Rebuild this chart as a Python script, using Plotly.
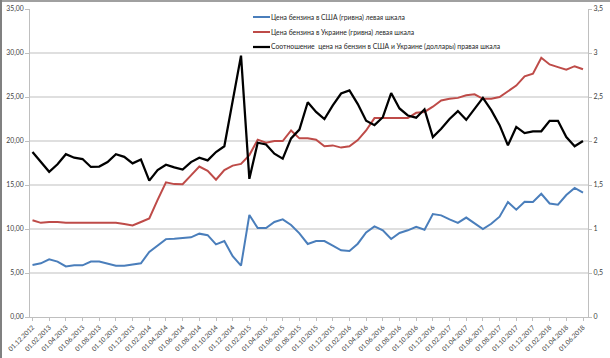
import plotly.graph_objects as go

# Category labels: monthly from 01.12.2012 to 01.06.2018
months = []
y, m = 2012, 12
while (y, m) <= (2018, 6):
    months.append(f"01.{m:02d}.{y}")
    m += 1
    if m > 12:
        m = 1
        y += 1

usa_price = [5.9, 6.1, 6.55, 6.3, 5.75, 5.87, 5.87, 6.3, 6.3, 6.05, 5.83, 5.83, 5.95, 6.1,
             7.4, 8.1, 8.85, 8.9, 8.97, 9.05, 9.47, 9.3, 8.25, 8.63, 6.9, 5.83, 11.6, 10.1,
             10.1, 10.8, 11.1, 10.45, 9.5, 8.3, 8.63, 8.63, 8.1, 7.58, 7.5, 8.33, 9.6, 10.3,
             9.85, 8.86, 9.55, 9.85, 10.26, 9.92, 11.7, 11.55, 11.1, 10.7, 11.3, 10.7, 10.0,
             10.6, 11.4, 13.07, 12.2, 13.1, 13.07, 14.0, 12.9, 12.77, 13.86, 14.66, 14.13]

ukr_price = [11.0, 10.7, 10.8, 10.8, 10.7, 10.7, 10.65, 10.7, 10.7, 10.7, 10.7, 10.57, 10.4,
             10.8, 11.2, 13.3, 15.3, 15.1, 15.08, 16.1, 17.1, 16.6, 15.6, 16.7, 17.2, 17.4,
             18.4, 20.15, 19.8, 20.0, 20.0, 21.2, 20.3, 20.3, 20.15, 19.4, 19.5, 19.25, 19.4,
             20.1, 21.2, 22.6, 22.6, 22.6, 22.6, 22.6, 23.2, 23.3, 23.9, 24.6, 24.8, 24.9,
             25.2, 25.3, 24.8, 24.8, 25.0, 25.7, 26.3, 27.35, 27.65, 29.45, 28.7, 28.4, 28.1,
             28.5, 28.15]

ratio = [1.875, 1.76, 1.65, 1.735, 1.85, 1.81, 1.795, 1.705, 1.71, 1.76, 1.85, 1.82, 1.746,
         1.79, 1.55, 1.67, 1.73, 1.70, 1.675, 1.76, 1.81, 1.78, 1.875, 1.94, 2.46, 2.97,
         1.57, 1.98, 1.96, 1.856, 1.80, 2.03, 2.13, 2.44, 2.33, 2.25, 2.405, 2.54, 2.575,
         2.42, 2.23, 2.18, 2.27, 2.545, 2.37, 2.29, 2.265, 2.36, 2.045, 2.14, 2.25, 2.34,
         2.24, 2.37, 2.49, 2.35, 2.18, 1.95, 2.16, 2.09, 2.11, 2.11, 2.23, 2.23, 2.045,
         1.94, 2.0]

names = ["Цена бензина в США (гривна) левая шкала",
         "Цена бензина в Украине (гривна) левая шкала",
         "Соотношение  цена на бензин в США и Украине (доллары) правая шкала"]
colors = ["#4a7ebb", "#be4b48", "#000000"]
widths = [2, 2, 2.25]

left_ticks = [0, 5, 10, 15, 20, 25, 30, 35]
right_ticks = [0, 0.5, 1, 1.5, 2, 2.5, 3, 3.5]
right_ticklabels = ["0", "0,5", "1", "1,5", "2", "2,5", "3", "3,5"]

FONT = "Lato"
TXT = "#404040"
GRID = "#bfbfbf"

# plot area in pixels
L, R, T, B = 30, 22, 9, 41
PW, PH = 610 - L - R, 358 - T - B

def px(xp):
    return (xp - L) / PW

def py(yp):
    return 1 - (yp - T) / PH

fig = go.Figure()
series = [(usa_price, "y"), (ukr_price, "y"), (ratio, "y2")]
for (vals, ax), nm, c, w in zip(series, names, colors, widths):
    fig.add_trace(go.Scatter(x=months, y=vals, mode="lines", name=nm, yaxis=ax,
                             line=dict(color=c, width=w), showlegend=False,
                             hoverinfo="skip"))

shapes = []
# horizontal gridlines (not at the top edge)
for v in left_ticks[1:-1]:
    shapes.append(dict(type="line", xref="paper", yref="y", x0=0, x1=1, y0=v, y1=v,
                       line=dict(color=GRID, width=1), layer="below"))
# chart-area border (left + top)
shapes.append(dict(type="line", xref="paper", yref="paper", x0=px(0), x1=px(612),
                   y0=py(1), y1=py(1), line=dict(color="#a0a0a0", width=2)))
shapes.append(dict(type="line", xref="paper", yref="paper", x0=px(1), x1=px(1),
                   y0=py(0), y1=py(360), line=dict(color="#808080", width=2)))

# manual legend
annotations = []
leg_y = [17, 32, 47]
for nm, c, w, yy in zip(names, colors, widths, leg_y):
    shapes.append(dict(type="line", xref="paper", yref="paper", x0=px(253), x1=px(270),
                       y0=py(yy), y1=py(yy), line=dict(color=c, width=w)))
    annotations.append(dict(xref="paper", yref="paper", x=px(269), y=py(yy), text=nm,
                            showarrow=False, xanchor="left", yanchor="middle",
                            font=dict(family=FONT, size=6.8, color="#262626")))

fig.update_layout(
    width=610, height=358,
    margin=dict(l=L, r=R, t=T, b=B, autoexpand=False),
    paper_bgcolor="white", plot_bgcolor="white",
    separators=", ",
    font=dict(family=FONT, size=7, color=TXT),
    showlegend=False,
    hovermode=False,
    xaxis=dict(type="category", range=[-0.3, 66.6], tickvals=months[::2],
               ticktext=months[::2], tickangle=-45,
               tickfont=dict(size=6.6, color=TXT),
               showgrid=False, showline=True, linecolor=GRID, linewidth=1,
               ticks="outside", ticklen=3, tickcolor=GRID, automargin=False),
    yaxis=dict(range=[0, 35], tickvals=left_ticks, tickformat=".2f",
               showgrid=False, zeroline=False,
               showline=True, linecolor=GRID, ticks="outside", ticklen=4,
               tickcolor=GRID, tickfont=dict(size=6.8, color=TXT), automargin=False),
    yaxis2=dict(range=[0, 3.5], tickvals=right_ticks, ticktext=right_ticklabels,
                overlaying="y", side="right", showgrid=False, zeroline=False,
                showline=True, linecolor=GRID, ticks="outside", ticklen=3,
                ticklabeloverflow="allow",
                tickcolor=GRID, tickfont=dict(size=7, color=TXT), automargin=False),
    shapes=shapes,
    annotations=annotations,
)

fig.write_html("out.html",
               config={"displayModeBar": False, "staticPlot": True},
               post_script="document.body.style.margin='0';document.body.style.overflow='hidden';")
